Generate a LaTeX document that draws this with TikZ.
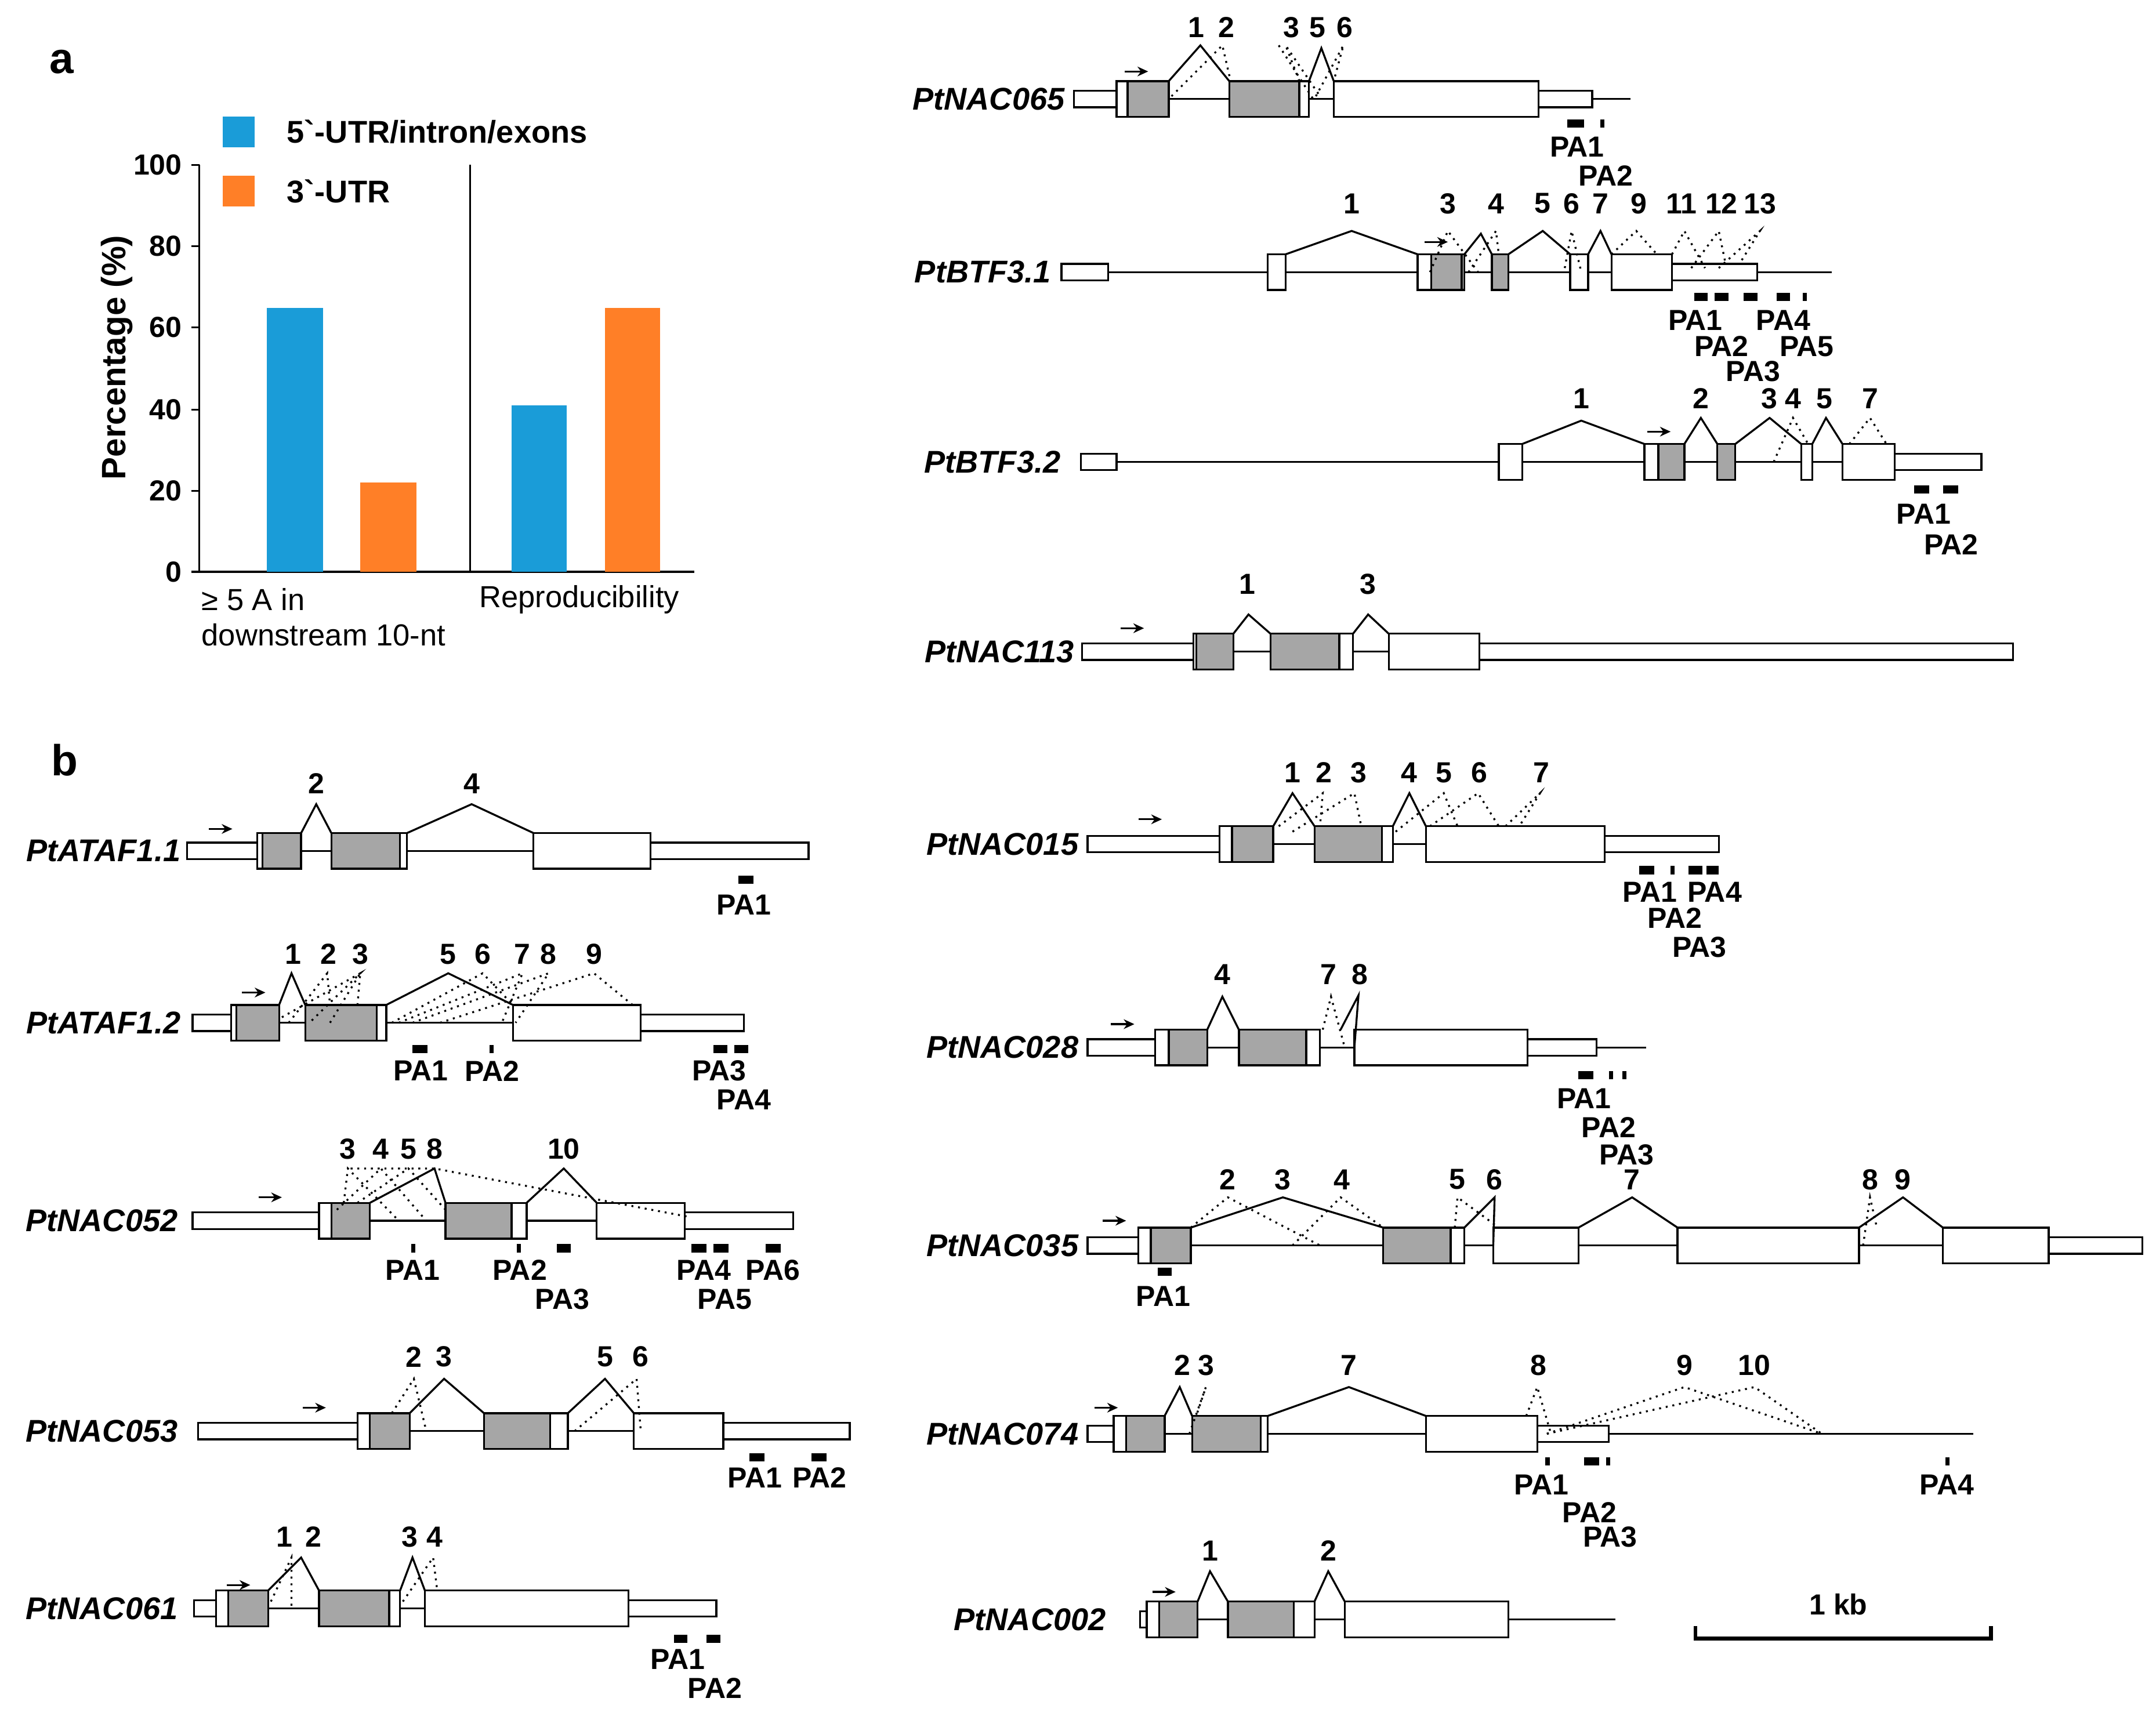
\documentclass[tikz,border=0pt]{standalone}
\usepackage{fontspec}
\setmainfont{Liberation Sans}
\usetikzlibrary{arrows.meta}
\definecolor{cdsg}{HTML}{A6A6A6}
\definecolor{cblue}{HTML}{1A9CD8}
\definecolor{corange}{HTML}{FF7F27}
\tikzset{
 gl/.style={line width=0.4pt},
 num/.style={font=\fontsize{6}{7}\selectfont\bfseries,inner sep=0pt},
 gname/.style={font=\fontsize{6.5}{7}\selectfont\bfseries\itshape,inner sep=0pt,anchor=east},
 tss/.style={-{Stealth[length=2.2pt,width=2pt]},line width=0.4pt},
}
\newcommand\iline[3]{\draw[gl] (#1,#3)--(#2,#3);}
\newcommand\utr[3]{\draw[gl,fill=white] (#1,#3-6) rectangle (#2,#3+6);}
\newcommand\ex[3]{\draw[gl,fill=white] (#1,#3-13) rectangle (#2,#3+13);}
\newcommand\cds[3]{\draw[gl,fill=cdsg] (#1,#3-13) rectangle (#2,#3+13);}
\newcommand\sj[5]{\draw[gl] (#1,#5-13)--(#3,#4)--(#2,#5-13);}
\newcommand\dsj[6]{\draw[gl,densely dotted] (#1,#2)--(#3,#4)--(#5,#6);}
\newcommand\pab[3]{\fill (#1,#3-3) rectangle (#2,#3+3);}
\newcommand\lab[3]{\node[num] at (#1,#2) {#3};}
\newcommand\tssa[2]{\draw[tss] (#1,#2)--(#1+17,#2);}
\begin{document}
\begin{tikzpicture}[x=0.01cm,y=-0.01cm]
\path[use as bounding box] (0,0) rectangle (1568,1243);
% panel labels
\node[font=\fontsize{9}{10}\selectfont\bfseries] (pa) at (45,45) {a};
\node[font=\fontsize{9}{10}\selectfont\bfseries] (pb) at (47,553) {b};
% chart
\draw[gl] (145,120)--(145,416)--(505,416);
\draw[gl] (342,120)--(342,416);
\foreach \v/\y in {0/416,20/357,40/298,60/238,80/179,100/120}{
 \draw[gl] (139,\y)--(145,\y);
 \node[num,anchor=east] at (133,\y) {\v};}
\fill[cblue] (194,224) rectangle (235,416);
\fill[corange] (262,351) rectangle (303,416);
\fill[cblue] (372,295) rectangle (412,416);
\fill[corange] (440,224) rectangle (480,416);
\fill[cblue] (162,85) rectangle (185,107);
\fill[corange] (162,128) rectangle (185,150);
\node[num,font=\fontsize{6.5}{7}\selectfont\bfseries,anchor=west] (l1) at (208,96) {5\textasciigrave-UTR/intron/exons};
\node[num,font=\fontsize{6.5}{7}\selectfont\bfseries,anchor=west] (l2) at (208,139) {3\textasciigrave-UTR};
\node[font=\fontsize{7}{8}\selectfont\bfseries,rotate=90] (yl) at (85,260) {Percentage (\%)};
\node[font=\fontsize{6.3}{7}\selectfont,anchor=west,inner sep=0pt] (x1) at (146,436) {≥ 5 A in};
\node[font=\fontsize{6.3}{7}\selectfont,anchor=west,inner sep=0pt] (x2) at (146,462) {downstream 10-nt};
\node[font=\fontsize{6.3}{7}\selectfont,anchor=west,inner sep=0pt] (x3) at (348,436) {Reproducibility};
% PtNAC065
\node[gname] at (775,72) {PtNAC065};
\iline{850}{894}{72}\iline{952}{970}{72}\iline{1158}{1186}{72}
\utr{781}{812}{72}\ex{812}{850}{72}\cds{820}{850}{72}
\ex{894}{952}{72}\cds{894}{945}{72}\ex{970}{1119}{72}\utr{1119}{1158}{72}
\sj{850}{894}{873}{33}{72}\sj{952}{970}{961}{35}{72}
\dsj{852}{70}{889}{33}{895}{59}\dsj{945}{59}{935}{33}{960}{70}\dsj{957}{70}{977}{33}{970}{59}\dsj{930}{33}{955}{72}{958}{72}
\tssa{818}{52}
\lab{870}{20}{1}\lab{892}{20}{2}\lab{939}{20}{3}\lab{958}{20}{5}\lab{978}{20}{6}
\pab{1140}{1152}{90}\pab{1164}{1167}{90}
\lab{1147}{107}{PA1}\lab{1168}{128}{PA2}
% PtBTF3.1
\node[gname] at (765,198) {PtBTF3.1};
\iline{806}{1332}{198}
\utr{772}{806}{198}\ex{922}{935}{198}\ex{1031}{1065}{198}\cds{1041}{1063}{198}
\cds{1085}{1097}{198}\ex{1142}{1155}{198}\ex{1172}{1216}{198}\utr{1216}{1278}{198}
\sj{935}{1031}{983}{168}{198}\sj{1065}{1085}{1077}{170}{198}\sj{1097}{1142}{1122}{168}{198}\sj{1155}{1172}{1164}{168}{198}
\dsj{1040}{198}{1053}{168}{1075}{198}\dsj{1068}{198}{1088}{168}{1090}{185}\dsj{1138}{195}{1143}{168}{1150}{198}
\dsj{1172}{185}{1190}{168}{1205}{185}\dsj{1216}{185}{1225}{168}{1240}{195}\dsj{1230}{195}{1250}{168}{1255}{192}\dsj{1250}{195}{1280}{168}{1265}{192}
\tssa{1036}{176}
\lab{983}{148}{1}\lab{1053}{148}{3}\lab{1088}{148}{4}\lab{1122}{148}{5}\lab{1143}{148}{6}\lab{1164}{148}{7}\lab{1192}{148}{9}\lab{1223}{148}{11}\lab{1252}{148}{12}\lab{1280}{148}{13}
\pab{1232}{1242}{216}\pab{1247}{1257}{216}\pab{1268}{1278}{216}\pab{1292}{1302}{216}\pab{1311}{1314}{216}
\lab{1233}{233}{PA1}\lab{1252}{252}{PA2}\lab{1275}{270}{PA3}\lab{1297}{233}{PA4}\lab{1314}{252}{PA5}
% PtBTF3.2
\node[gname] at (772,336) {PtBTF3.2};
\iline{812}{1378}{336}
\utr{786}{812}{336}\ex{1090}{1107}{336}\ex{1196}{1225}{336}\cds{1206}{1225}{336}\cds{1249}{1262}{336}
\ex{1310}{1318}{336}\ex{1340}{1378}{336}\utr{1378}{1441}{336}
\sj{1107}{1196}{1150}{306}{336}\sj{1225}{1249}{1237}{304}{336}\sj{1262}{1310}{1287}{304}{336}\sj{1318}{1340}{1328}{304}{336}
\dsj{1290}{336}{1304}{304}{1315}{323}\dsj{1345}{323}{1360}{304}{1372}{323}
\tssa{1198}{314}
\lab{1150}{290}{1}\lab{1237}{290}{2}\lab{1287}{290}{3}\lab{1304}{290}{4}\lab{1327}{290}{5}\lab{1360}{290}{7}
\pab{1392}{1403}{356}\pab{1413}{1424}{356}
\lab{1399}{374}{PA1}\lab{1419}{396}{PA2}
% PtNAC113
\node[gname] at (782,474) {PtNAC113};
\iline{897}{924}{474}\iline{984}{1010}{474}
\utr{787}{868}{474}\ex{868}{897}{474}\cds{870}{897}{474}\ex{924}{984}{474}\cds{924}{974}{474}
\ex{1010}{1076}{474}\utr{1076}{1464}{474}
\sj{897}{924}{908}{447}{474}\sj{984}{1010}{995}{447}{474}
\tssa{815}{457}
\lab{907}{425}{1}\lab{995}{425}{3}
% PtATAF1.1
\node[gname] at (132,619) {PtATAF1.1};
\iline{219}{241}{619}\iline{296}{388}{619}
\utr{136}{187}{619}\ex{187}{219}{619}\cds{191}{219}{619}\ex{241}{296}{619}\cds{241}{291}{619}
\ex{388}{473}{619}\utr{473}{588}{619}
\sj{219}{241}{230}{585}{619}\sj{296}{388}{343}{585}{619}
\tssa{152}{603}
\lab{230}{570}{2}\lab{343}{570}{4}
\pab{537}{548}{640}\lab{541}{658}{PA1}
% PtATAF1.2
\node[gname] at (132,744) {PtATAF1.2};
\iline{203}{222}{744}\iline{281}{373}{744}
\utr{140}{168}{744}\ex{168}{203}{744}\cds{172}{203}{744}\ex{222}{281}{744}\cds{222}{274}{744}
\ex{373}{466}{744}\utr{466}{541}{744}
\sj{203}{222}{212}{708}{744}\sj{281}{373}{326}{708}{744}
\dsj{210}{744}{238}{708}{240}{731}\dsj{205}{740}{262}{708}{225}{744}\dsj{240}{744}{262}{708}{260}{731}
\dsj{285}{744}{351}{708}{373}{731}\dsj{290}{744}{380}{708}{365}{744}\dsj{300}{744}{399}{708}{375}{744}\dsj{320}{744}{432}{708}{460}{731}
\tssa{176}{722}
\lab{213}{694}{1}\lab{239}{694}{2}\lab{262}{694}{3}\lab{326}{694}{5}\lab{351}{694}{6}\lab{380}{694}{7}\lab{399}{694}{8}\lab{432}{694}{9}
\pab{300}{311}{763}\pab{356}{359}{763}\pab{519}{529}{763}\pab{534}{544}{763}
\lab{306}{779}{PA1}\lab{358}{779}{PA2}\lab{523}{779}{PA3}\lab{541}{800}{PA4}
% PtNAC052
\node[gname] at (130,888) {PtNAC052};
\iline{269}{324}{888}\iline{383}{434}{888}
\utr{140}{232}{888}\ex{232}{269}{888}\cds{241}{269}{888}\ex{324}{383}{888}\cds{324}{372}{888}
\ex{434}{498}{888}\utr{498}{577}{888}
\sj{269}{324}{316}{850}{888}\sj{383}{434}{410}{850}{888}
\dsj{250}{875}{253}{850}{290}{888}\dsj{245}{880}{277}{850}{310}{888}\dsj{260}{875}{297}{850}{324}{880}\dsj{255}{850}{316}{850}{500}{885}
\tssa{188}{871}
\lab{253}{836}{3}\lab{277}{836}{4}\lab{297}{836}{5}\lab{316}{836}{8}\lab{410}{836}{10}
\pab{299}{302}{908}\pab{376}{379}{908}\pab{405}{415}{908}\pab{503}{514}{908}\pab{519}{530}{908}\pab{557}{568}{908}
\lab{300}{924}{PA1}\lab{378}{924}{PA2}\lab{409}{945}{PA3}\lab{512}{924}{PA4}\lab{527}{945}{PA5}\lab{562}{924}{PA6}
% PtNAC053
\node[gname] at (130,1041) {PtNAC053};
\iline{298}{352}{1041}\iline{413}{461}{1041}
\utr{144}{260}{1041}\ex{260}{298}{1041}\cds{269}{298}{1041}\ex{352}{413}{1041}\cds{352}{400}{1041}
\ex{461}{526}{1041}\utr{526}{618}{1041}
\sj{298}{352}{323}{1003}{1041}\sj{413}{461}{440}{1003}{1041}
\dsj{285}{1028}{301}{1003}{310}{1041}\dsj{418}{1041}{463}{1003}{466}{1041}
\tssa{220}{1024}
\lab{301}{987}{2}\lab{323}{987}{3}\lab{440}{987}{5}\lab{466}{987}{6}
\pab{545}{556}{1060}\pab{590}{601}{1060}
\lab{549}{1075}{PA1}\lab{596}{1075}{PA2}
% PtNAC061
\node[gname] at (130,1170) {PtNAC061};
\iline{195}{232}{1170}\iline{291}{309}{1170}
\utr{141}{157}{1170}\ex{157}{195}{1170}\cds{166}{195}{1170}\ex{232}{291}{1170}\cds{232}{283}{1170}
\ex{309}{457}{1170}\utr{457}{521}{1170}
\sj{195}{232}{219}{1133}{1170}\sj{291}{309}{300}{1133}{1170}
\dsj{197}{1165}{212}{1133}{212}{1170}\dsj{293}{1165}{315}{1133}{318}{1157}
\tssa{165}{1153}
\lab{207}{1118}{1}\lab{228}{1118}{2}\lab{298}{1118}{3}\lab{316}{1118}{4}
\pab{490}{500}{1192}\pab{514}{524}{1192}
\lab{493}{1207}{PA1}\lab{520}{1228}{PA2}
% PtNAC015
\node[gname] at (785,614) {PtNAC015};
\iline{926}{956}{614}\iline{1013}{1037}{614}
\utr{791}{887}{614}\ex{887}{926}{614}\cds{896}{926}{614}\ex{956}{1013}{614}\cds{956}{1005}{614}
\ex{1037}{1167}{614}\utr{1167}{1250}{614}
\sj{926}{956}{940}{577}{614}\sj{1013}{1037}{1025}{577}{614}
\dsj{930}{601}{962}{577}{960}{601}\dsj{940}{605}{985}{577}{990}{601}\dsj{1015}{605}{1050}{577}{1060}{601}\dsj{1040}{601}{1075}{577}{1090}{601}\dsj{1095}{601}{1120}{577}{1105}{601}
\tssa{828}{596}
\lab{940}{562}{1}\lab{963}{562}{2}\lab{988}{562}{3}\lab{1025}{562}{4}\lab{1050}{562}{5}\lab{1076}{562}{6}\lab{1121}{562}{7}
\pab{1192}{1203}{633}\pab{1215}{1218}{633}\pab{1228}{1238}{633}\pab{1241}{1250}{633}
\lab{1200}{649}{PA1}\lab{1218}{668}{PA2}\lab{1236}{689}{PA3}\lab{1247}{649}{PA4}
% PtNAC028
\node[gname] at (785,762) {PtNAC028};
\iline{878}{901}{762}\iline{960}{985}{762}\iline{1161}{1197}{762}
\utr{791}{840}{762}\ex{840}{878}{762}\cds{850}{878}{762}\ex{901}{960}{762}\cds{901}{950}{762}
\ex{985}{1111}{762}\utr{1111}{1161}{762}
\sj{878}{901}{889}{725}{762}\draw[gl] (975,749)--(988,724)--(985,762);
\dsj{962}{749}{968}{725}{978}{762}
\tssa{808}{745}
\lab{889}{709}{4}\lab{966}{709}{7}\lab{989}{709}{8}
\pab{1148}{1159}{782}\pab{1170}{1173}{782}\pab{1180}{1183}{782}
\lab{1152}{799}{PA1}\lab{1170}{820}{PA2}\lab{1183}{840}{PA3}
% PtNAC035
\node[gname] at (785,906) {PtNAC035};
\iline{866}{1006}{906}\iline{1065}{1086}{906}\iline{1148}{1220}{906}\iline{1352}{1413}{906}
\utr{791}{828}{906}\ex{828}{866}{906}\cds{837}{866}{906}\ex{1006}{1065}{906}\cds{1006}{1055}{906}
\ex{1086}{1148}{906}\ex{1220}{1352}{906}\ex{1413}{1490}{906}\utr{1490}{1558}{906}
\sj{866}{1006}{933}{871}{906}\draw[gl] (1065,893)--(1087,871)--(1086,906);\sj{1148}{1220}{1187}{871}{906}\sj{1352}{1413}{1384}{871}{906}
\dsj{866}{893}{893}{871}{960}{906}\dsj{940}{906}{975}{871}{1006}{893}\dsj{1058}{893}{1060}{871}{1090}{893}\dsj{1355}{906}{1360}{871}{1365}{893}
\tssa{802}{888}
\lab{893}{858}{2}\lab{933}{858}{3}\lab{976}{858}{4}\lab{1060}{858}{5}\lab{1087}{858}{6}\lab{1187}{858}{7}\lab{1360}{858}{8}\lab{1384}{858}{9}
\pab{842}{852}{925}\lab{846}{943}{PA1}
% PtNAC074
\node[gname] at (785,1043) {PtNAC074};
\iline{847}{867}{1043}\iline{922}{1037}{1043}\iline{1170}{1435}{1043}
\utr{791}{810}{1043}\ex{810}{847}{1043}\cds{819}{847}{1043}\ex{867}{922}{1043}\cds{867}{917}{1043}
\ex{1037}{1118}{1043}\utr{1118}{1170}{1043}
\sj{847}{867}{858}{1009}{1043}\sj{922}{1037}{981}{1009}{1043}
\dsj{865}{1043}{877}{1009}{870}{1030}\dsj{1110}{1030}{1118}{1009}{1128}{1043}\dsj{1125}{1043}{1225}{1009}{1325}{1043}\dsj{1125}{1043}{1276}{1009}{1325}{1043}
\tssa{796}{1024}
\lab{860}{993}{2}\lab{877}{993}{3}\lab{981}{993}{7}\lab{1119}{993}{8}\lab{1225}{993}{9}\lab{1276}{993}{10}
\pab{1124}{1127}{1063}\pab{1152}{1163}{1063}\pab{1168}{1171}{1063}\pab{1415}{1418}{1063}
\lab{1121}{1080}{PA1}\lab{1156}{1100}{PA2}\lab{1171}{1118}{PA3}\lab{1416}{1080}{PA4}
% PtNAC002
\node[gname] at (805,1178) {PtNAC002};
\iline{871}{893}{1178}\iline{956}{978}{1178}\iline{1097}{1175}{1178}
\utr{829}{834}{1178}\ex{834}{871}{1178}\cds{843}{871}{1178}\ex{893}{956}{1178}\cds{893}{941}{1178}
\ex{978}{1097}{1178}
\sj{871}{893}{880}{1143}{1178}\sj{956}{978}{966}{1143}{1178}
\tssa{838}{1158}
\lab{880}{1128}{1}\lab{966}{1128}{2}
% scale bar
\draw[line width=0.8pt] (1233,1183)--(1233,1192)--(1448,1192)--(1448,1183);
\node[num] (kb) at (1337,1167) {1 kb};
\end{tikzpicture}
\end{document}
